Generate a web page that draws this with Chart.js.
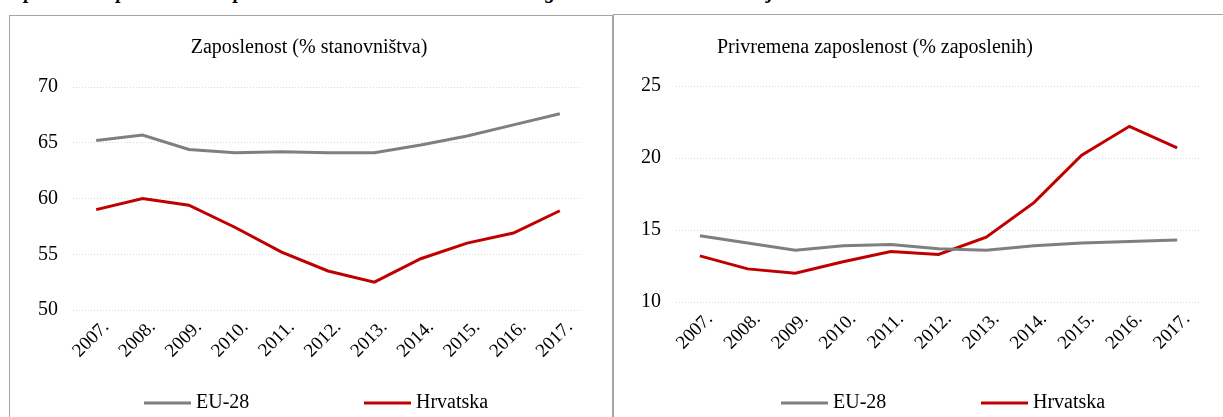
<!DOCTYPE html>
<html>
<head>
<meta charset="utf-8">
<script src="https://cdn.jsdelivr.net/npm/chart.js@4/dist/chart.umd.min.js"></script>
<style>
  body { margin: 0; background: #fff; width: 1223px; height: 417px; overflow: hidden; position: relative; font-family: "Liberation Serif", serif; }
  .cap { position: absolute; left: 2px; top: -20px; font-size: 20px; font-style: italic; font-weight: bold; white-space: nowrap; color: #000; }
  .panel { position: absolute; border: 1px solid #a6a6a6; border-bottom: none; background: #fff; }
  #p1 { left: 9px; top: 15px; width: 602px; height: 402px; }
  #p2 { left: 613px; top: 14px; width: 612px; height: 403px; border-right: none; }
  canvas { position: absolute; left: 0; top: 0; }
</style>
</head>
<body>
<div class="cap">Zaposlenost i privremena zaposlenost u stanovništvu dobi 15 – 64 godine u EU-28 i Hrvatskoj</div>
<div class="panel" id="p1"><canvas id="c1" width="602" height="401"></canvas></div>
<div class="panel" id="p2"><canvas id="c2" width="610" height="402"></canvas></div>
<script>
// podaci
var years = ['2007.', '2008.', '2009.', '2010.', '2011.', '2012.', '2013.', '2014.', '2015.', '2016.', '2017.'];
var euEmployment = [65.2, 65.7, 64.4, 64.1, 64.2, 64.1, 64.1, 64.8, 65.6, 66.6, 67.6];
var hrEmployment = [59.0, 60.0, 59.4, 57.4, 55.2, 53.5, 52.5, 54.6, 56.0, 56.9, 58.9];
var euTemporary = [14.6, 14.1, 13.6, 13.9, 14.0, 13.7, 13.6, 13.9, 14.1, 14.2, 14.3];
var hrTemporary = [13.2, 12.3, 12.0, 12.8, 13.5, 13.3, 14.5, 16.9, 20.2, 22.2, 20.7];
var seriesNames = ['EU-28', 'Hrvatska'];

var FONT = '"Liberation Serif", serif';
var GREY = '#7f7f7f';
var RED = '#c00000';

// naslov i legenda crtani rucno
var panelText = {
  id: 'panelText',
  afterDraw: function (chart, args, opts) {
    var ctx = chart.ctx;
    ctx.save();
    ctx.fillStyle = '#000';
    ctx.font = '20px ' + FONT;
    ctx.textAlign = 'center';
    ctx.textBaseline = 'middle';
    ctx.fillText(opts.title, opts.titleX, opts.titleY);
    ctx.textAlign = 'left';
    chart.data.datasets.forEach(function (ds, i) {
      var x = opts.legendX[i];
      ctx.strokeStyle = ds.borderColor;
      ctx.lineWidth = 3;
      ctx.beginPath();
      ctx.moveTo(x, opts.legendY);
      ctx.lineTo(x + 47, opts.legendY);
      ctx.stroke();
      ctx.fillText(ds.label, x + 52, opts.legendY);
    });
    ctx.restore();
  }
};

function makeChart(id, a, b, min, max, box, text) {
  return new Chart(document.getElementById(id), {
    type: 'line',
    data: {
      labels: years,
      datasets: [{
        label: seriesNames[0],
        data: a,
        borderColor: GREY,
        backgroundColor: GREY,
        borderWidth: 3,
        pointRadius: 0,
        tension: 0
      }, {
        label: seriesNames[1],
        data: b,
        borderColor: RED,
        backgroundColor: RED,
        borderWidth: 3,
        pointRadius: 0,
        tension: 0
      }]
    },
    options: {
      responsive: false,
      animation: false,
      layout: { padding: { top: box.top, right: box.right, left: 0, bottom: 0 } },
      plugins: {
        legend: { display: false },
        tooltip: { enabled: false },
        panelText: text
      },
      scales: {
        x: {
          offset: true,
          grid: { display: false, drawTicks: false },
          border: { display: false },
          ticks: { color: '#000', font: { family: FONT, size: 19 }, minRotation: 45, maxRotation: 45, padding: 6, labelOffset: 10 },
          afterFit: function (s) { s.height = box.xHeight; }
        },
        y: {
          min: min,
          max: max,
          grid: { color: '#d9d9d9', lineWidth: 1, drawTicks: false },
          border: { display: false, dash: [1, 2] },
          ticks: { stepSize: 5, color: '#000', font: { family: FONT, size: 20 }, padding: 15 },
          afterFit: function (s) { s.width = box.yWidth; }
        }
      }
    },
    plugins: [panelText]
  });
}

makeChart('c1', euEmployment, hrEmployment, 50, 70,
  { top: 71, right: 29, yWidth: 63, xHeight: 107 },
  { title: 'Zaposlenost (% stanovništva)', titleX: 299, titleY: 32, legendX: [134, 354], legendY: 387 });

makeChart('c2', euTemporary, hrTemporary, 10, 25,
  { top: 71, right: 23, yWidth: 62, xHeight: 115 },
  { title: 'Privremena zaposlenost (% zaposlenih)', titleX: 261, titleY: 33, legendX: [167, 367], legendY: 388 });
</script>
</body>
</html>
